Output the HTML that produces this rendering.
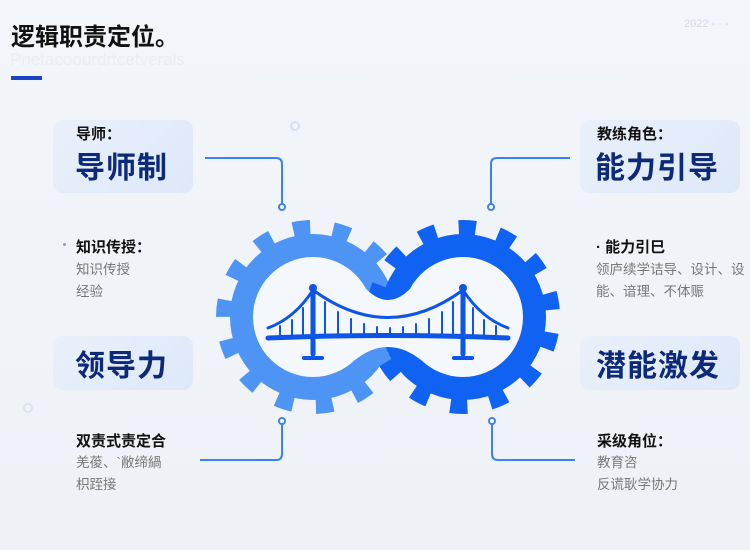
<!DOCTYPE html>
<html><head><meta charset="utf-8"><style>
body{margin:0;width:750px;height:550px;overflow:hidden;background:linear-gradient(180deg,#f2f5f9,#eef2f7);font-family:"Liberation Sans","Noto Sans CJK SC",sans-serif;position:relative}
.a{position:absolute}
.box{position:absolute;border-radius:10px;background:linear-gradient(135deg,#e9f0fb,#dde8f9)}
.big{font-size:30px;font-weight:bold;color:#0d2a7a;letter-spacing:1px}
.lab{font-size:15px;color:#111;font-weight:bold}
.sub{font-size:13.5px;color:#777;line-height:22px}
</style></head><body>
<div class="a" style="left:11px;top:17px;font-size:24px;font-weight:bold;color:#111">逻辑职责定位。</div>
<div class="a" style="left:10px;top:50px;font-size:17px;color:#e9edf2">Pnetacoourdrtcetverals</div>
<div class="a" style="left:11px;top:76px;width:31px;height:4px;background:#1a44c8"></div>
<div class="a" style="left:684px;top:18px;font-size:11px;color:#d6dae0">2022 - · -</div>

<div class="box" style="left:53px;top:120px;width:140px;height:73px"></div>
<div class="a lab" style="left:76px;top:123px">导师：</div>
<div class="a big" style="left:75px;top:143px">导师制</div>

<div class="box" style="left:580px;top:120px;width:160px;height:73px"></div>
<div class="a lab" style="left:597px;top:123px">教练角色：</div>
<div class="a big" style="left:595px;top:143px">能力引导</div>

<div class="box" style="left:53px;top:336px;width:140px;height:54px"></div>
<div class="a big" style="left:75px;top:341px">领导力</div>
<div class="box" style="left:580px;top:336px;width:160px;height:54px"></div>
<div class="a big" style="left:596px;top:341px">潜能激发</div>

<div class="a" style="left:63px;top:243px;width:3px;height:3px;border-radius:50%;background:#99a"></div>
<div class="a lab" style="left:76px;top:236px">知识传授：</div>
<div class="a sub" style="left:76px;top:259px">知识传授<br>经验</div>
<div class="a lab" style="left:596px;top:236px">· 能力引巳</div>
<div class="a sub" style="left:596px;top:259px;white-space:nowrap">领庐续学诘导、设计、设<br>能、谙理、不体赈</div>
<div class="a lab" style="left:76px;top:430px">双责式责定合</div>
<div class="a sub" style="left:76px;top:452px">羌葰、`敝缔緺<br>枳跮接</div>
<div class="a lab" style="left:597px;top:430px">采级角位：</div>
<div class="a sub" style="left:597px;top:452px">教育咨<br>反谎耿学协力</div>

<svg class="a" style="left:0;top:0" width="750" height="550">
<g fill="none" stroke="#3b82f0" stroke-width="2">
<path d="M205 158 H276 Q282 158 282 164 V204"/><circle cx="282" cy="207" r="3" fill="#fff"/>
<path d="M570 158 H497 Q491 158 491 164 V204"/><circle cx="491" cy="207" r="3" fill="#fff"/>
<path d="M200 460 H276 Q282 460 282 454 V424"/><circle cx="282" cy="421" r="3" fill="#fff"/>
<path d="M575 460 H498 Q492 460 492 454 V424"/><circle cx="492" cy="421" r="3" fill="#fff"/>
</g>
<circle cx="295" cy="126" r="4" fill="none" stroke="#d6e0ee" stroke-width="2"/>
<circle cx="28" cy="408" r="4" fill="none" stroke="#dde5f0" stroke-width="2"/>
<g>
<circle cx="313" cy="317" r="83" fill="#4d94f5"/>
<circle cx="313" cy="317" r="89" fill="none" stroke="#4d94f5" stroke-width="16" stroke-dasharray="17 22.94"/>
<circle cx="463" cy="317" r="83" fill="#0f62f2"/>
<circle cx="463" cy="317" r="89" fill="none" stroke="#0f62f2" stroke-width="16" stroke-dasharray="17 22.94" transform="rotate(10 463 317)"/>
<circle cx="313" cy="317" r="60" fill="#f4f7fb"/>
<circle cx="463" cy="317" r="60" fill="#f4f7fb"/>
<path d="M355 275 Q388 325 421 275 L421 360 Q388 334 355 360 Z" fill="#f4f7fb"/>
</g>
<g stroke="#0d55e6" fill="none" stroke-linecap="round">
<path d="M268 338 Q388 333 508 338" stroke-width="5"/>
<path d="M268 328 Q295 318 313 290 Q388 345 463 290 Q481 318 508 328" stroke-width="3"/>
<path d="M313 290 V354 M463 290 V354" stroke-width="5"/>
<path d="M304 358 H322 M454 358 H472" stroke-width="4"/>
<path d="M280 326 V336 M292 320 V336 M303 308 V336 M325 302 V336 M338 312 V336 M351 319 V336 M364 324 V336 M377 327 V336 M390 328 V336 M403 327 V336 M416 324 V336 M429 319 V336 M442 312 V336 M453 302 V336 M473 308 V336 M484 320 V336 M496 326 V336" stroke-width="2"/>
</g>
<circle cx="313" cy="288" r="4" fill="#0d55e6"/><circle cx="463" cy="288" r="4" fill="#0d55e6"/>
</svg>
</body></html>
